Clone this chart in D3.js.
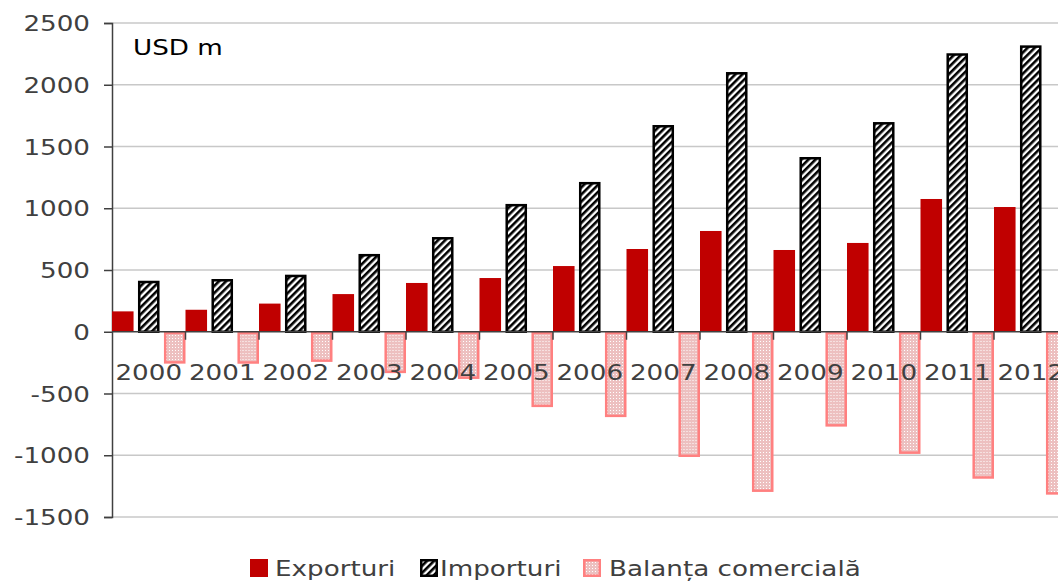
<!DOCTYPE html>
<html>
<head>
<meta charset="utf-8">
<script src="https://cdn.jsdelivr.net/npm/d3@7"></script>
<style>
  body { margin: 0; background: #fff; }
  svg { display: block; font-family: "DejaVu Sans", Verdana, sans-serif; }
</style>
</head>
<body>
<div id="chart"></div>
<script>
// data
var years = ["2000","2001","2002","2003","2004","2005","2006","2007","2008","2009","2010","2011","2012"];
var exporturi = [165, 178, 228, 305, 395, 435, 532, 670, 816, 662, 719, 1075, 1010];
var importuri = [413, 427, 462, 630, 767, 1035, 1213, 1674, 2103, 1415, 1698, 2255, 2319];
var balanta   = [-248, -249, -234, -325, -372, -600, -681, -1004, -1287, -758, -979, -1180, -1309];
var yTicks = [-1500, -1000, -500, 0, 500, 1000, 1500, 2000, 2500];
var seriesNames = ["Exporturi", "Importuri", "Balanța comercială"];

var W = 1058, H = 582;
var margin = {top: 23, left: 112};
var plotW = 73.5 * years.length,
    plotH = 494;
var stretch = 1.19; // the original font is wider than DejaVu

var svg = d3.select("#chart").append("svg")
    .attr("width", W)
    .attr("height", H);

var defs = svg.append("defs");

// diagonal stripes for imports
var stripes = defs.append("pattern")
    .attr("id", "stripes")
    .attr("patternUnits", "userSpaceOnUse")
    .attr("width", 5).attr("height", 5)
    .attr("patternTransform", "rotate(45)");
stripes.append("rect").attr("width", 5).attr("height", 5).attr("fill", "#fff");
stripes.append("rect").attr("width", 2.6).attr("height", 5).attr("fill", "#000");

// fine dots for balance
var dots = defs.append("pattern")
    .attr("id", "dots")
    .attr("patternUnits", "userSpaceOnUse")
    .attr("width", 3).attr("height", 3);
dots.append("rect").attr("width", 3).attr("height", 3).attr("fill", "#edc0c0");
dots.append("rect").attr("width", 1).attr("height", 1).attr("fill", "#fff");

var g = svg.append("g")
    .attr("transform", "translate(" + margin.left + "," + margin.top + ")");

var x = d3.scaleBand()
    .domain(years)
    .range([0, plotW])
    .padding(0);

var y = d3.scaleLinear()
    .domain([-1500, 2500])
    .range([plotH, 0]);

var xSub = d3.scaleBand()
    .domain(seriesNames)
    .range([0, x.bandwidth()])
    .paddingInner(0.17)
    .paddingOuter(0);

// puts a text at (px,py) stretched sideways
function place(sel, px, py) {
  sel.attr("x", 0).attr("y", 0)
     .attr("transform", function(d, i){
       var a = typeof px === "function" ? px(d, i) : px;
       var b = typeof py === "function" ? py(d, i) : py;
       return "translate(" + a + "," + b + ") scale(" + stretch + ",1)";
     });
}

// gridlines
g.append("g")
  .selectAll("line")
  .data(yTicks.filter(function(d){ return d !== 0; }))
  .enter().append("line")
    .attr("x1", 0).attr("x2", W)
    .attr("y1", function(d){ return y(d); })
    .attr("y2", function(d){ return y(d); })
    .attr("stroke", "#c8c8c8")
    .attr("stroke-width", 1.3);

// y axis
var yAxis = g.append("g")
    .call(d3.axisLeft(y).tickValues(yTicks).tickSize(8).tickFormat(function(d){ return String(d); }));
yAxis.select(".domain").attr("stroke", "#404040").attr("stroke-width", 1.5);
yAxis.selectAll(".tick line").attr("stroke", "#404040").attr("stroke-width", 1.5);
yAxis.selectAll("text")
    .attr("font-size", 22)
    .attr("fill", "#404040")
    .attr("font-family", "DejaVu Sans, Verdana, sans-serif")
    .attr("dy", "0.35em")
    .call(place, -22, 0);

// bars
var rows = years.map(function(yr, i) {
  return {year: yr, vals: [
    {key: seriesNames[0], value: exporturi[i]},
    {key: seriesNames[1], value: importuri[i]},
    {key: seriesNames[2], value: balanta[i]}
  ]};
});

var fills = {"Exporturi": "#c00000", "Importuri": "url(#stripes)", "Balanța comercială": "url(#dots)"};
var strokes = {"Exporturi": "none", "Importuri": "#000", "Balanța comercială": "#ff8080"};
var swidth = {"Exporturi": 0, "Importuri": 2.5, "Balanța comercială": 2.5};

g.append("g")
  .selectAll("g")
  .data(rows)
  .enter().append("g")
    .attr("transform", function(d){ return "translate(" + x(d.year) + ",0)"; })
  .selectAll("rect")
  .data(function(d){ return d.vals; })
  .enter().append("rect")
    .attr("x", function(d){ return xSub(d.key) + swidth[d.key] / 2; })
    .attr("y", function(d){ return (d.value >= 0 ? y(d.value) : y(0)) + swidth[d.key] / 2; })
    .attr("width", function(d){ return xSub.bandwidth() - swidth[d.key]; })
    .attr("height", function(d){ return Math.abs(y(d.value) - y(0)) - swidth[d.key] / 2; })
    .attr("fill", function(d){ return fills[d.key]; })
    .attr("stroke", function(d){ return strokes[d.key]; })
    .attr("stroke-width", function(d){ return swidth[d.key]; });

// x axis on the zero line
var xAxis = g.append("g")
    .attr("transform", "translate(0," + y(0) + ")");
xAxis.append("line")
    .attr("x1", 0).attr("x2", W)
    .attr("stroke", "#404040").attr("stroke-width", 1.5);
xAxis.selectAll(".cat-tick")
  .data(years)
  .enter().append("line")
    .attr("class", "cat-tick")
    .attr("x1", function(d){ return x(d) + x.bandwidth(); })
    .attr("x2", function(d){ return x(d) + x.bandwidth(); })
    .attr("y1", 0).attr("y2", 8)
    .attr("stroke", "#404040").attr("stroke-width", 1.5);
xAxis.selectAll(".cat-label")
  .data(years)
  .enter().append("text")
    .attr("class", "cat-label")
    .attr("text-anchor", "middle")
    .attr("font-size", 22)
    .attr("fill", "#404040")
    .text(function(d){ return d; })
    .call(place, function(d){ return x(d) + x.bandwidth() / 2; }, 48);

// unit label
svg.append("text")
    .attr("font-size", 22)
    .attr("fill", "#000")
    .text("USD m")
    .call(place, 133, 55);

// legend
var legendX = [250, 420, 583];
var legend = svg.append("g").selectAll("g")
  .data(seriesNames)
  .enter().append("g")
    .attr("transform", function(d, i){ return "translate(" + legendX[i] + ",559)"; });
legend.append("rect")
    .attr("x", function(d){ return swidth[d] / 2; })
    .attr("y", function(d){ return swidth[d] / 2; })
    .attr("width", function(d){ return 18 - swidth[d]; })
    .attr("height", function(d){ return 18 - swidth[d]; })
    .attr("fill", function(d){ return fills[d]; })
    .attr("stroke", function(d){ return strokes[d]; })
    .attr("stroke-width", function(d){ return swidth[d]; });
legend.append("text")
    .attr("font-size", 22)
    .attr("fill", "#404040")
    .text(function(d){ return d; })
    .call(place, function(d, i){ return i === 0 ? 25 : (i === 1 ? 20 : 26); }, 17);
</script>
</body>
</html>
